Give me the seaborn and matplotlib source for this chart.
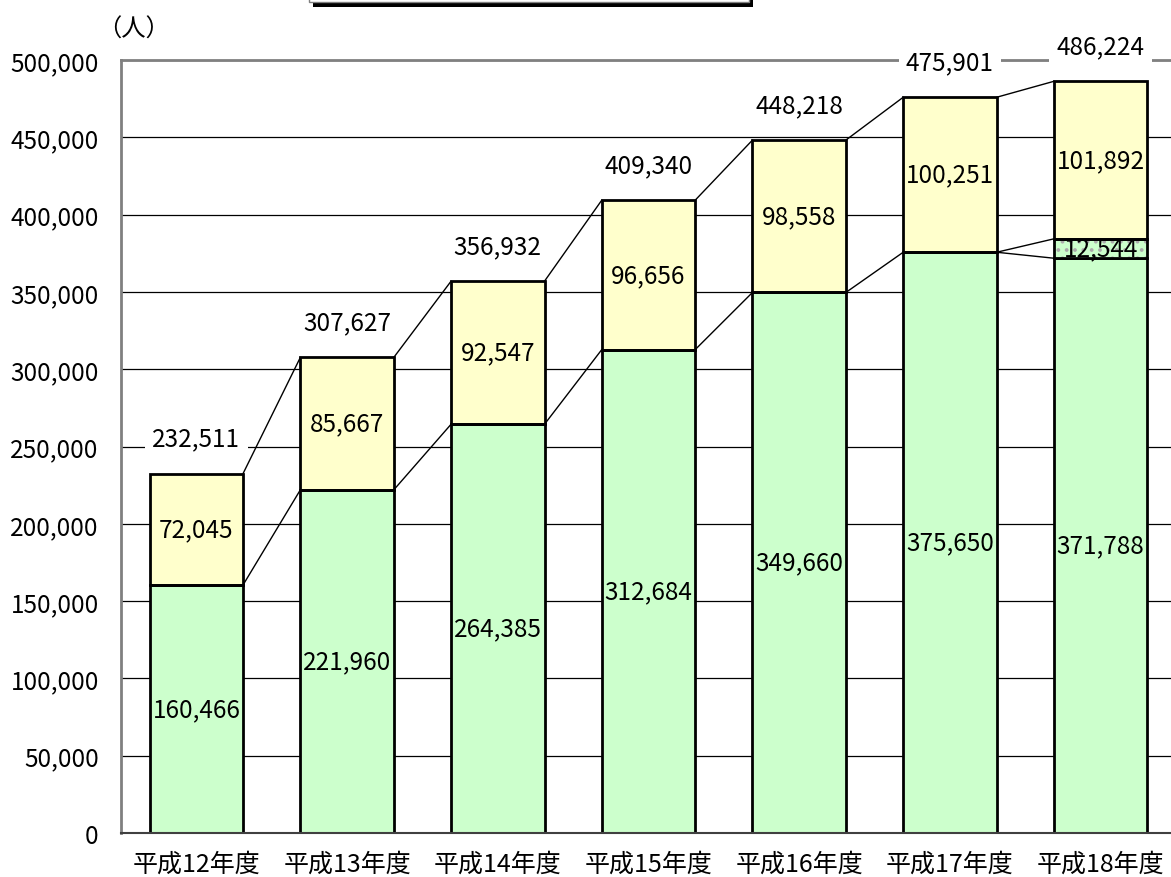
import numpy as np
import pandas as pd
import matplotlib.pyplot as plt
import matplotlib.patches as mpatches
import seaborn as sns

sns.set_style('white')
plt.rcParams['font.family'] = ['Noto Sans CJK JP', 'DejaVu Sans']
plt.rcParams['hatch.linewidth'] = 1.5
plt.rcParams['text.color'] = 'black'
plt.rcParams['xtick.labelcolor'] = 'black'
plt.rcParams['ytick.labelcolor'] = 'black'

# データ
years = ['平成12年度', '平成13年度', '平成14年度', '平成15年度', '平成16年度', '平成17年度', '平成18年度']
green_vals = [160466, 221960, 264385, 312684, 349660, 375650, 371788]
dot_vals = [0, 0, 0, 0, 0, 0, 12544]
yellow_vals = [72045, 85667, 92547, 96656, 98558, 100251, 101892]
totals = [232511, 307627, 356932, 409340, 448218, 475901, 486224]

GREEN = '#CCFFCC'
YELLOW = '#FFFFCC'
W = 0.62
FS = 17.5

df = pd.DataFrame({'year': years, 'green': green_vals, 'dot': dot_vals, 'yellow': yellow_vals})
df['dot_bottom'] = df['green']
df['yellow_bottom'] = df['green'] + df['dot']

fig = plt.figure(figsize=(11.71, 8.78), dpi=100)
ax = fig.add_axes([121 / 1171, 1 - 834 / 878, (1176 - 121) / 1171, (834 - 61) / 878])

# 緑
sns.barplot(data=df, x='year', y='green', color=GREEN, saturation=1, width=W,
            edgecolor='black', linewidth=2, ax=ax, zorder=2)
# 点線部分
sns.barplot(data=df, x='year', y='dot', color=GREEN, saturation=1, width=W,
            bottom=df['dot_bottom'].values, hatch='..', edgecolor='#aaaaaa', linewidth=0,
            ax=ax, zorder=2)
sns.barplot(data=df, x='year', y='dot', color='black', fill=False, width=W,
            bottom=df['dot_bottom'].values, linewidth=2, ax=ax, zorder=2.1)
# 黄
sns.barplot(data=df, x='year', y='yellow', color=YELLOW, saturation=1, width=W,
            bottom=df['yellow_bottom'].values, edgecolor='black', linewidth=2, ax=ax, zorder=2)

# 連結線
for i in range(len(years) - 1):
    ax.plot([i + W / 2, i + 1 - W / 2], [green_vals[i], green_vals[i + 1]], color='black', lw=1, zorder=3)
    ax.plot([i + W / 2, i + 1 - W / 2], [totals[i], totals[i + 1]], color='black', lw=1, zorder=3)
    if dot_vals[i + 1] > 0:
        ax.plot([i + W / 2, i + 1 - W / 2], [green_vals[i], green_vals[i + 1] + dot_vals[i + 1]],
                color='black', lw=1, zorder=3)

# ラベル
for i in range(len(years)):
    ax.text(i, green_vals[i] / 2, f'{green_vals[i]:,}', ha='center', va='center', fontsize=FS, zorder=4)
    ax.text(i, green_vals[i] + dot_vals[i] + yellow_vals[i] / 2, f'{yellow_vals[i]:,}',
            ha='center', va='center', fontsize=FS, zorder=4)
    if dot_vals[i] > 0:
        ax.text(i, green_vals[i] + dot_vals[i] / 2, f'{dot_vals[i]:,}', ha='center', va='center',
                fontsize=FS, zorder=4)
    ax.annotate(f'{totals[i]:,}', (i, totals[i]), xytext=(0, 35), textcoords='offset pixels',
                ha='center', va='center', fontsize=FS, zorder=6, annotation_clip=False,
                bbox=dict(boxstyle='square,pad=0.3', fc='white', ec='none'))

ax.set_xlim(-0.5, 6.5)
ax.set_ylim(0, 500000)
ax.set_yticks(np.arange(0, 500001, 50000))
ax.set_yticklabels([f'{v:,}' for v in range(0, 500001, 50000)])
ax.yaxis.grid(True, color='black', lw=0.9)
ax.set_axisbelow(True)
ax.set_xlabel('')
ax.set_ylabel('')
ax.tick_params(axis='y', length=0, pad=16, labelsize=FS)
ax.tick_params(axis='x', which='major', length=0, pad=13, labelsize=18)
ax.set_xticks(np.arange(0.5, 6.5, 1), minor=True)
ax.tick_params(axis='x', which='minor', direction='in', length=6, color='black', width=1)

for s in ['left', 'top']:
    ax.spines[s].set_color('#808080')
    ax.spines[s].set_linewidth(2)
ax.spines['bottom'].set_color('#404040')
ax.spines['bottom'].set_linewidth(1.5)
ax.spines['right'].set_visible(False)

fig.text(133 / 1171, 1 - 30 / 878, '（人）', ha='center', va='center', fontsize=FS)

# タイトル枠（上部で切れている）
fig.patches.append(mpatches.Rectangle((313 / 1171, 1 - 8 / 878), 440 / 1171, 40 / 878,
                                      transform=fig.transFigure, fc='black', ec='none'))
fig.patches.append(mpatches.Rectangle((309 / 1171, 1 - 3 / 878), 440 / 1171, 40 / 878,
                                      transform=fig.transFigure, fc='white', ec='#808080', lw=1))

fig.savefig('out.png', dpi=100)
